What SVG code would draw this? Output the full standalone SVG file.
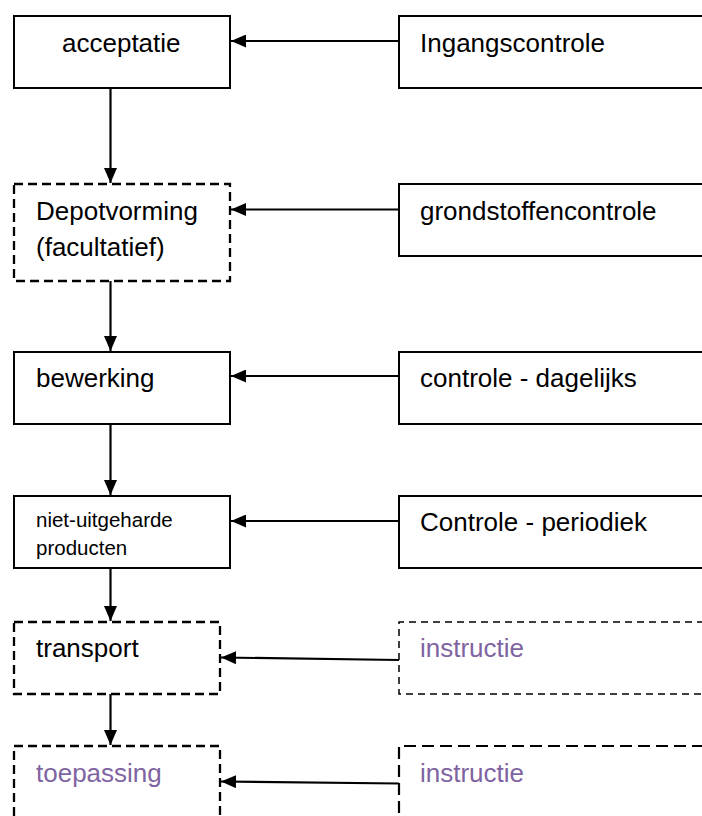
<svg xmlns="http://www.w3.org/2000/svg" width="702" height="816" viewBox="0 0 702 816">
<style>
.box{fill:#fff;stroke:#000;stroke-width:2}
.dash{stroke-width:2.3;stroke-dasharray:9 5}
.dashf{stroke-width:1.5;stroke-dasharray:7 5}
.dashl{stroke-width:2.2;stroke-dasharray:12 6}
.t{font-family:"Liberation Sans",Arial,sans-serif;font-size:26px;fill:#000}
.s{font-size:20.5px}
.p{fill:#8064A2}
.c{stroke:#000;stroke-width:2.2;fill:none;marker-end:url(#ah)}
</style>
<defs>
<marker id="ah" viewBox="0 0 15 13" refX="15" refY="6.5" markerWidth="15" markerHeight="13" markerUnits="userSpaceOnUse" orient="auto">
<path d="M0,0 L15,6.5 L0,13 Z" fill="#000"/>
</marker>
</defs>
<g id="n-acceptatie"><rect class="box" x="14" y="16" width="216" height="72"/><text class="t" x="62" y="52">acceptatie</text></g>
<g id="n-ingangscontrole"><path class="box" d="M704,16 H399 V88 H704"/><text class="t" x="420" y="52">Ingangscontrole</text></g>
<g id="n-depot"><rect class="box dash" x="14" y="184" width="216" height="97"/><text class="t" x="36" y="220">Depotvorming</text><text class="t" x="36" y="256">(facultatief)</text></g>
<g id="n-grondstoffen"><path class="box" d="M704,184 H399 V256 H704"/><text class="t" x="420" y="220">grondstoffencontrole</text></g>
<g id="n-bewerking"><rect class="box" x="14" y="352" width="216" height="72"/><text class="t" x="36" y="387">bewerking</text></g>
<g id="n-dagelijks"><path class="box" d="M704,352 H399 V424 H704"/><text class="t" x="420" y="387">controle - dagelijks</text></g>
<g id="n-niet"><rect class="box" x="14" y="496" width="216" height="72"/><text class="t s" x="36" y="527">niet-uitgeharde</text><text class="t s" x="36" y="555">producten</text></g>
<g id="n-periodiek"><path class="box" d="M704,496 H399 V568 H704"/><text class="t" x="420" y="531">Controle - periodiek</text></g>
<g id="n-transport"><rect class="box dash" x="14" y="622" width="206" height="72"/><text class="t" x="36" y="657">transport</text></g>
<g id="n-instructie1"><path class="box dashf" d="M704,622 H399 V694 H704"/><text class="t p" x="420" y="657">instructie</text></g>
<g id="n-toepassing"><path class="box dash" d="M14,830 V746 H220 V830"/><text class="t p" x="36" y="782">toepassing</text></g>
<g id="n-instructie2"><path class="box dashl" d="M704,746 H399 V830"/><text class="t p" x="420" y="782">instructie</text></g>
<g id="connectors">
<line class="c" x1="399" y1="41" x2="231" y2="41"/>
<line class="c" x1="399" y1="209.5" x2="231" y2="209.5"/>
<line class="c" x1="399" y1="376" x2="231" y2="376"/>
<line class="c" x1="399" y1="521" x2="231" y2="521"/>
<line class="c" x1="399" y1="660" x2="221" y2="657.5"/>
<line class="c" x1="399" y1="783.5" x2="221" y2="781.5"/>
<line class="c" x1="110.5" y1="88" x2="110.5" y2="183"/>
<line class="c" x1="110.5" y1="281" x2="110.5" y2="351"/>
<line class="c" x1="110.5" y1="424" x2="110.5" y2="495"/>
<line class="c" x1="110.5" y1="568" x2="110.5" y2="621"/>
<line class="c" x1="110.5" y1="694" x2="110.5" y2="745"/>
</g>
</svg>
